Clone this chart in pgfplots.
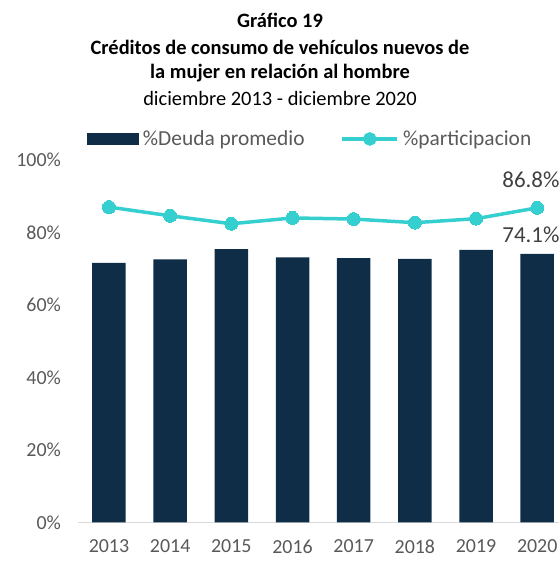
\documentclass[border=0pt]{standalone}
\usepackage{pgfplots}
\pgfplotsset{compat=1.18}
\usepackage{fontspec}
\setmainfont{Carlito}
\definecolor{navy}{HTML}{0F2D47}
\definecolor{turq}{HTML}{36CFCF}
\definecolor{txt}{HTML}{595959}
\definecolor{lbl}{HTML}{404040}

\begin{document}
\begin{tikzpicture}[x=1bp,y=1bp]
\path[use as bounding box] (0,0) rectangle (559,561);
\node[font=\bfseries\fontsize{20.5}{22}\selectfont] at (280,541) {Gráfico 19};
\node[font=\bfseries\fontsize{20.5}{22}\selectfont] at (280,514) {Créditos de consumo de vehículos nuevos de};
\node[font=\bfseries\fontsize{20.5}{22}\selectfont] at (280,488) {la mujer en relación al hombre};
\node[font=\fontsize{20.5}{22}\selectfont] at (280,463) {diciembre 2013 - diciembre 2020};

\begin{axis}[
  at={(78.4bp,38.7bp)}, anchor=south west,
  scale only axis, width=489.4bp, height=362.3bp,
  xmin=-0.5, xmax=7.5, ymin=0, ymax=100,
  xtick={0,...,7},
  xticklabels={2013,2014,2015,2016,2017,2018,2019,2020},
  ytick={0,20,40,60,80,100},
  yticklabel={\pgfmathprintnumber{\tick}\%},
  /pgf/number format/assume math mode=true,
  ticklabel style={font=\fontsize{20}{22}\selectfont, text=txt},
  xticklabel style={yshift=-14bp},
  yticklabel style={xshift=-14bp},
  axis x line*=bottom, axis y line*=left,
  x axis line style={draw=black!15, line width=1bp},
  y axis line style={draw=none},
  major tick length=0pt,
  clip=false,
  legend columns=2,
  legend style={draw=none, fill=none, at={(0.5,1.0)}, anchor=center,
    xshift=-13bp, yshift=21bp, font=\fontsize{21.5}{23}\selectfont, text=txt, inner sep=0pt,
    /tikz/every odd column/.append style={column sep=2bp},
    /tikz/every even column/.append style={column sep=34bp}},
]
\addplot[ybar, bar width=33.5bp, fill=navy, draw=none,
  legend image code/.code={\fill[navy] (0bp,-6bp) rectangle (52bp,6bp);}]
  coordinates {(0,71.6) (1,72.6) (2,75.4) (3,73.1) (4,72.9) (5,72.7) (6,75.2) (7,74.1)};
\addlegendentry{\%Deuda promedio}
\addplot[color=turq, line width=3.5bp, mark=*, mark size=6.5bp,
  mark options={fill=turq, draw=turq, line width=0pt},
  legend image code/.code={\draw[turq, line width=3.5bp] (0bp,0bp) -- (55bp,0bp);
    \fill[turq] (27.5bp,0bp) circle (5bp);}]
  coordinates {(0,87.0) (1,84.6) (2,82.4) (3,84.0) (4,83.7) (5,82.7) (6,83.8) (7,86.8)};
\addlegendentry{\%participacion}
\node[font=\fontsize{23}{25}\selectfont, text=lbl, anchor=west, inner sep=0pt] at ([xshift=-35bp]axis cs:7,94.5) {86.8\%};
\node[font=\fontsize{23}{25}\selectfont, text=lbl, anchor=west, inner sep=0pt] at ([xshift=-35bp]axis cs:7,79.3) {74.1\%};
\end{axis}
\end{tikzpicture}
\end{document}
